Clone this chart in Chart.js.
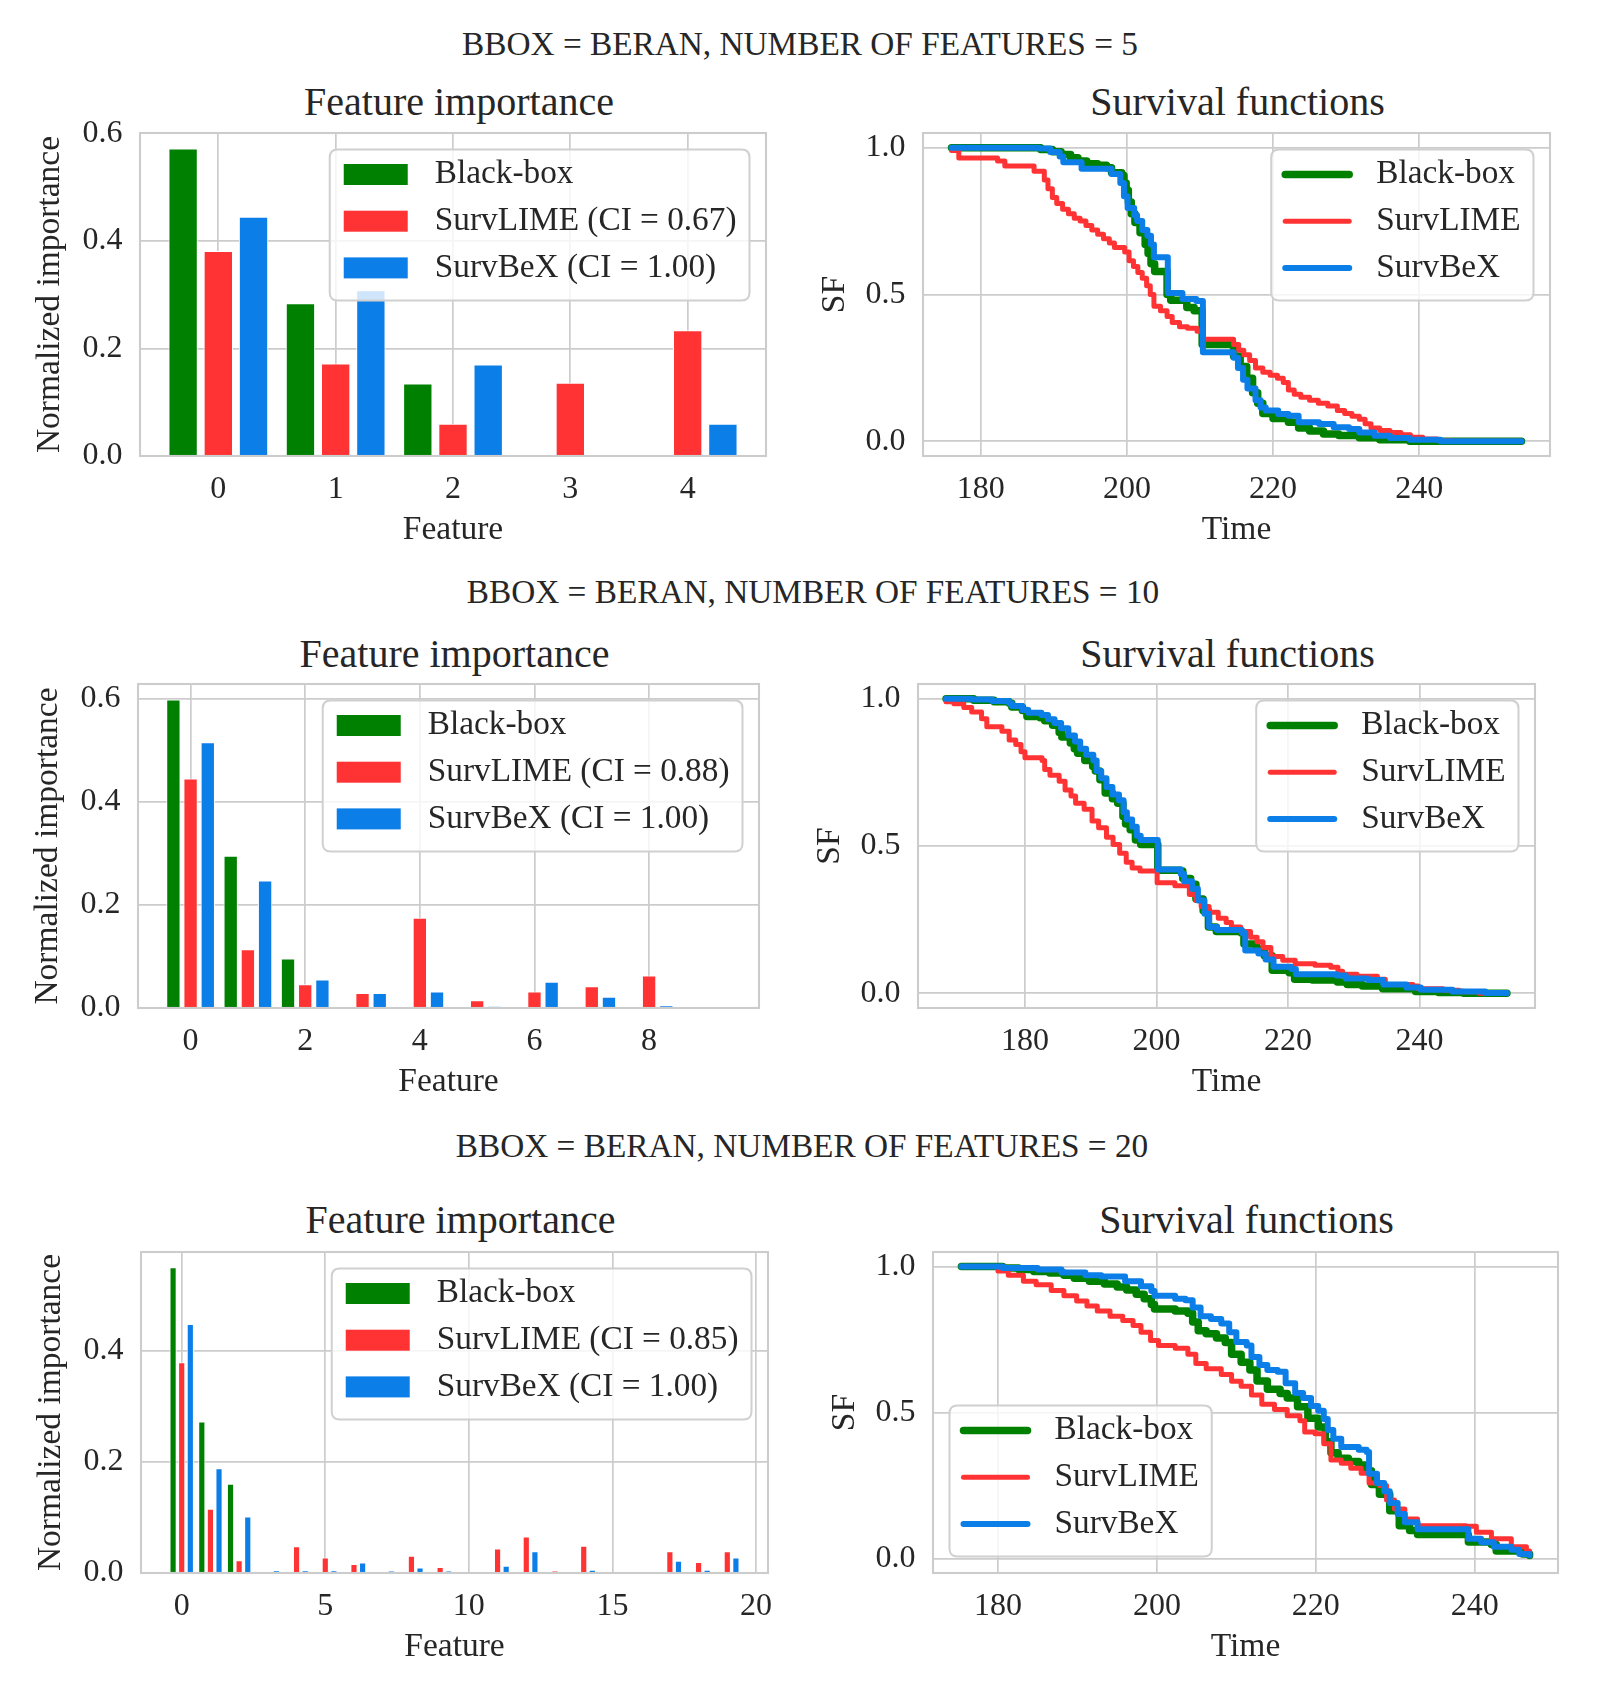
<!DOCTYPE html>
<html>
<head>
<meta charset="utf-8">
<script src="https://cdn.jsdelivr.net/npm/chart.js@4.4.1/dist/chart.umd.min.js"></script>
<style>
html,body{margin:0;padding:0;background:#fff;}
#page{position:relative;width:1600px;height:1696px;overflow:hidden;background:#fff;
  font-family:'Liberation Serif','Times New Roman',serif;color:#262626;}
.txt{position:absolute;white-space:nowrap;transform:translateX(-50%);}
.sup{font-size:33.3px;line-height:33px;}
.ttl{font-size:40px;line-height:40px;}
canvas{position:absolute;}
</style>
</head>
<body>
<div id="page"></div>
<script>
// ---------------- DATA ----------------
const suptitles = [
  'BBOX = BERAN, NUMBER OF FEATURES = 5',
  'BBOX = BERAN, NUMBER OF FEATURES = 10',
  'BBOX = BERAN, NUMBER OF FEATURES = 20'
];
const seriesNames = ['Black-box', 'SurvLIME', 'SurvBeX'];
const ciSurvLIME = ['0.67', '0.88', '0.85'];
const ciSurvBeX = ['1.00', '1.00', '1.00'];

// feature importance (index = feature number)
const fi5_blackbox = [0.572, 0.284, 0.135, 0, 0];
const fi5_survlime = [0.381, 0.172, 0.060, 0.136, 0.234];
const fi5_survbex  = [0.445, 0.308, 0.170, 0, 0.060];

const fi10_blackbox = [0.598, 0.295, 0.096, 0, 0, 0, 0, 0, 0, 0];
const fi10_survlime = [0.445, 0.114, 0.046, 0.029, 0.175, 0.015, 0.032, 0.042, 0.063, 0];
const fi10_survbex  = [0.515, 0.247, 0.055, 0.029, 0.032, 0.003, 0.051, 0.022, 0.005, 0];

const fi20_blackbox = [0.551, 0.273, 0.161, 0, 0, 0, 0, 0, 0, 0, 0, 0, 0, 0, 0, 0, 0, 0, 0, 0];
const fi20_survlime = [0.380, 0.116, 0.023, 0, 0.048, 0.028, 0.016, 0.001, 0.031, 0.011, 0, 0.044, 0.066, 0.004, 0.049, 0, 0, 0.039, 0.020, 0.039];
const fi20_survbex  = [0.449, 0.189, 0.102, 0.005, 0.005, 0.005, 0.019, 0.004, 0.010, 0.004, 0, 0.013, 0.039, 0.001, 0.006, 0.001, 0.001, 0.022, 0.006, 0.028];

// survival functions: [time, SF] step points (value holds until next time)
const sf5_blackbox = [[176,1.0],[188.2,0.994],[189.8,0.986],[191,0.977],[192.3,0.966],[193.3,0.955],[194.5,0.945],[196,0.94],[197.2,0.932],[197.9,0.915],[199.3,0.905],[199.6,0.88],[199.9,0.855],[200.2,0.815],[200.6,0.775],[201.1,0.745],[201.8,0.71],[202.5,0.67],[202.9,0.64],[203.3,0.605],[203.8,0.578],[205.5,0.5],[206,0.48],[208.2,0.456],[209.2,0.445],[210.3,0.33],[214.6,0.29],[215.5,0.255],[216.4,0.215],[217.2,0.165],[217.9,0.13],[218.6,0.095],[220,0.078],[222.1,0.065],[223.5,0.045],[225,0.035],[226.9,0.025],[229,0.02],[231.8,0.012],[234.6,0.005],[238.7,0],[254,0]];
const sf5_survlime = [[176,0.99],[177,0.965],[182.3,0.955],[183.3,0.938],[187.3,0.92],[188.7,0.89],[189.2,0.86],[189.8,0.83],[190.4,0.81],[191.2,0.79],[192,0.775],[192.8,0.76],[193.6,0.75],[194.4,0.735],[195.2,0.72],[196,0.705],[196.8,0.69],[197.6,0.675],[198.3,0.66],[199.7,0.645],[200.3,0.615],[200.9,0.595],[201.5,0.575],[202.1,0.555],[202.7,0.53],[203.2,0.5],[203.7,0.46],[204.6,0.445],[205.5,0.425],[206.2,0.405],[207.2,0.39],[208.3,0.385],[209.6,0.375],[210.4,0.348],[214.6,0.33],[215.3,0.31],[216,0.295],[216.8,0.275],[217.6,0.25],[218.6,0.235],[219.6,0.225],[220.6,0.215],[221.4,0.2],[222.1,0.175],[222.9,0.16],[223.8,0.15],[225,0.14],[226.2,0.13],[227.5,0.12],[228.8,0.105],[229.8,0.095],[230.8,0.085],[231.8,0.075],[232.6,0.06],[233.4,0.045],[234.6,0.037],[236,0.03],[237.5,0.022],[238.8,0.014],[240.5,0.008],[242.5,0.003],[244.5,0],[254,0]];
const sf5_survbex = [[176,1.0],[188,0.997],[189.5,0.985],[190.8,0.97],[191.3,0.95],[193.8,0.928],[197.9,0.91],[199.1,0.88],[199.6,0.835],[200.1,0.795],[201,0.77],[201.4,0.75],[202.1,0.72],[202.8,0.70],[203.3,0.67],[203.7,0.627],[205.6,0.505],[207.6,0.485],[209.5,0.478],[210.4,0.303],[214.6,0.285],[215.2,0.25],[215.9,0.21],[216.5,0.18],[217.6,0.14],[218.3,0.115],[219,0.105],[220.7,0.093],[222.1,0.087],[223.5,0.065],[226.3,0.059],[228.3,0.048],[230.4,0.042],[231.8,0.03],[233.9,0.019],[236,0.011],[238.7,0.005],[242.9,0],[254,0]];

const sf10_blackbox = [[168,1.0],[172.2,0.995],[175.3,0.99],[177.6,0.985],[178,0.972],[179.6,0.96],[180.3,0.94],[182.3,0.935],[183,0.925],[184.2,0.91],[185.2,0.885],[185.6,0.87],[186.9,0.85],[187.5,0.83],[188,0.815],[189.1,0.79],[190.3,0.77],[190.7,0.755],[191.4,0.725],[192.2,0.68],[193.3,0.66],[194.1,0.645],[194.9,0.6],[195.3,0.575],[196,0.555],[196.8,0.52],[197.6,0.505],[200.2,0.418],[203.7,0.415],[204,0.39],[205.2,0.37],[206,0.32],[207.1,0.28],[207.9,0.225],[209.1,0.21],[212.9,0.205],[213.3,0.167],[215.2,0.15],[216.4,0.127],[217.6,0.078],[220.2,0.07],[221,0.048],[223.7,0.045],[227.5,0.038],[229,0.03],[231.3,0.025],[234.4,0.015],[239.4,0.006],[242.9,0.003],[246.7,0],[253.3,0]];
const sf10_survlime = [[168,0.99],[169.2,0.983],[170.7,0.97],[171.9,0.955],[173.4,0.932],[174.2,0.905],[176.5,0.89],[177.6,0.86],[178.6,0.845],[179.4,0.82],[180,0.8],[182.6,0.79],[183,0.76],[183.8,0.74],[185.2,0.72],[186.1,0.69],[187,0.67],[187.7,0.645],[189,0.625],[190.2,0.585],[191.2,0.562],[192.4,0.53],[193.4,0.505],[194.4,0.475],[195.4,0.445],[196.3,0.425],[197.5,0.415],[200.1,0.375],[202.8,0.365],[205,0.335],[206,0.315],[206.8,0.295],[208,0.275],[209.4,0.255],[210.6,0.24],[211.4,0.225],[212.8,0.21],[214.3,0.19],[215.3,0.175],[216.2,0.155],[217.4,0.125],[219.2,0.112],[221.1,0.1],[224.1,0.095],[226.5,0.088],[227.6,0.075],[228.3,0.065],[230.5,0.058],[233.6,0.048],[234.8,0.03],[239,0.025],[239.8,0.015],[243.6,0.01],[246,0.005],[249,0],[253.3,0]];
const sf10_survbex = [[168,1.0],[172,0.997],[175,0.992],[177.6,0.985],[178,0.975],[179.6,0.962],[180.5,0.952],[182.5,0.945],[183.5,0.93],[184.5,0.918],[185.5,0.9],[186.6,0.875],[187.6,0.855],[188.4,0.83],[189.3,0.81],[190.4,0.79],[190.9,0.755],[191.6,0.73],[192.4,0.7],[193.3,0.675],[194.3,0.655],[195,0.615],[195.5,0.59],[196.3,0.565],[197,0.535],[197.6,0.52],[200.2,0.42],[203.7,0.405],[204.2,0.38],[205.4,0.355],[206.3,0.315],[207.3,0.27],[208,0.225],[209.2,0.215],[213,0.205],[213.5,0.145],[215.5,0.135],[216.6,0.115],[217.8,0.09],[220.5,0.082],[221.2,0.065],[227.4,0.06],[228.8,0.05],[232.2,0.045],[234.5,0.03],[238,0.02],[240.2,0.012],[245,0.006],[250,0.001],[253.3,0]];

const sf20_blackbox = [[175.4,1.0],[180.6,0.995],[182.6,0.99],[184.5,0.983],[186.5,0.978],[188.3,0.97],[189.6,0.96],[191.5,0.95],[193.4,0.94],[195,0.93],[196.2,0.92],[197.4,0.905],[198.4,0.89],[199.3,0.87],[199.7,0.855],[202.3,0.848],[203.9,0.84],[204.5,0.81],[205.2,0.78],[206.2,0.77],[207.5,0.755],[208.6,0.74],[209.4,0.7],[210.6,0.672],[211.7,0.646],[212.6,0.608],[213.9,0.58],[215.5,0.565],[216.4,0.55],[217.7,0.52],[219,0.48],[220.3,0.45],[221.2,0.4],[221.9,0.362],[222.8,0.343],[224.1,0.332],[225.4,0.32],[226.4,0.3],[227,0.253],[228,0.22],[229.3,0.163],[230.5,0.112],[231.8,0.096],[232.8,0.082],[238.9,0.08],[239.2,0.056],[242.1,0.048],[242.7,0.025],[246,0.015],[246.9,0.01]];
const sf20_survlime = [[175.4,1.0],[180,0.985],[181.3,0.97],[183.2,0.95],[184.8,0.938],[186.7,0.918],[188.3,0.9],[189.9,0.882],[191.2,0.865],[192.5,0.848],[194.1,0.83],[195.7,0.815],[197,0.798],[198,0.775],[199.2,0.747],[200.2,0.73],[202.3,0.72],[203.9,0.7],[204.9,0.668],[206.2,0.65],[208.1,0.63],[209.4,0.607],[210.6,0.59],[211.9,0.56],[213.2,0.528],[214.8,0.51],[216.4,0.489],[218,0.472],[218.6,0.433],[219.9,0.427],[221,0.393],[221.9,0.337],[223.2,0.326],[224.4,0.309],[225.7,0.292],[226.7,0.258],[228,0.25],[228.9,0.2],[229.9,0.169],[231.2,0.135],[232.8,0.112],[238.9,0.11],[240.2,0.09],[242.1,0.067],[244.6,0.04],[246.5,0.025],[246.9,0.015]];
const sf20_survbex = [[175.4,1.0],[180.6,0.995],[185,0.99],[188,0.98],[191,0.97],[193,0.966],[196,0.95],[198,0.933],[199.3,0.916],[199.7,0.9],[202.3,0.89],[203.6,0.885],[204.5,0.86],[205.5,0.83],[206.8,0.82],[208.1,0.805],[209.1,0.775],[210,0.742],[211.3,0.73],[211.9,0.69],[212.9,0.663],[213.9,0.646],[215.2,0.64],[216.2,0.6],[217.4,0.567],[218.4,0.55],[219.4,0.522],[220.3,0.506],[221,0.478],[221.5,0.44],[222.2,0.41],[223.2,0.382],[225.4,0.372],[226.4,0.365],[226.7,0.29],[227.7,0.258],[228.6,0.23],[229.3,0.19],[230.3,0.152],[231.2,0.124],[232.8,0.1],[238.9,0.1],[239.2,0.067],[240.8,0.055],[242.4,0.04],[244.6,0.03],[245.6,0.015],[246.9,0.01]];

// tick values
const featureTicks5 = [0, 1, 2, 3, 4];
const featureTicks10 = [0, 2, 4, 6, 8];
const featureTicks20 = [0, 5, 10, 15, 20];
const importanceTicks = [0, 0.2, 0.4, 0.6];
const timeTicks = [180, 200, 220, 240];
const sfTicks = [0, 0.5, 1.0];

// ---------------- STYLE / LAYOUT ----------------
const FONT = "'Liberation Serif', 'Times New Roman', serif";
const TEXT = '#262626';
const GRID = '#cccccc';
const SERIES_COLORS = ['#008000', '#ff3333', '#0b7ee8'];
const LINE_WIDTHS = [7.5, 5, 6];

const PLOTS = [
  {L:140, T:133, R:766, B:456},
  {L:923, T:133, R:1550, B:456},
  {L:138, T:684, R:759, B:1008},
  {L:918, T:684, R:1535, B:1008},
  {L:141, T:1252, R:768, B:1573},
  {L:933, T:1252, R:1558, B:1573}
];
const SUP_POS = [{cx:800, top:27.4}, {cx:813, top:575.4}, {cx:802, top:1129.4}];
const TITLE_TOP = [81.5, 633.5, 1199.5];
const TITLE_SHIFT = [6, 1];

const page = document.getElementById('page');

function addText(cls, text, cx, top) {
  const d = document.createElement('div');
  d.className = 'txt ' + cls;
  d.textContent = text;
  d.style.left = cx + 'px';
  d.style.top = top + 'px';
  page.appendChild(d);
}

const framePlugin = {
  id: 'frame',
  afterDatasetsDraw(chart) {
    const {ctx, chartArea: a} = chart;
    ctx.save();
    ctx.strokeStyle = GRID;
    ctx.lineWidth = 2.1;
    ctx.strokeRect(a.left, a.top, a.right - a.left, a.bottom - a.top);
    ctx.restore();
  }
};

const legendPlugin = {
  id: 'boxLegend',
  afterDraw(chart, args, opts) {
    const ctx = chart.ctx, a = chart.chartArea;
    const fs = 33.3;
    ctx.save();
    ctx.font = fs + 'px ' + FONT;
    const ds = chart.data.datasets;
    const textW = Math.max(...ds.map(d => ctx.measureText(d.label).width));
    const pad = 13, hl = 66, gap = 26, inset = 16.5, h = 151, pitch = 46.7;
    const w = pad + hl + gap + textW + pad;
    let x, y;
    if (opts.corner === 'sw') { x = a.left + inset; y = a.bottom - inset - h; }
    else { x = a.right - inset - w; y = a.top + inset; }
    const r = 8;
    ctx.beginPath();
    ctx.moveTo(x + r, y);
    ctx.lineTo(x + w - r, y); ctx.quadraticCurveTo(x + w, y, x + w, y + r);
    ctx.lineTo(x + w, y + h - r); ctx.quadraticCurveTo(x + w, y + h, x + w - r, y + h);
    ctx.lineTo(x + r, y + h); ctx.quadraticCurveTo(x, y + h, x, y + h - r);
    ctx.lineTo(x, y + r); ctx.quadraticCurveTo(x, y, x + r, y);
    ctx.closePath();
    ctx.fillStyle = 'rgba(255,255,255,0.8)';
    ctx.fill();
    ctx.strokeStyle = '#d0d0d0';
    ctx.lineWidth = 2;
    ctx.stroke();
    ds.forEach((d, i) => {
      const cy = y + 25 + i * pitch;
      if (opts.kind === 'bar') {
        ctx.fillStyle = d.backgroundColor;
        ctx.fillRect(x + pad + 1, cy - 10.5, hl - 2, 21);
      } else {
        ctx.strokeStyle = d.borderColor;
        ctx.lineWidth = d.borderWidth;
        ctx.lineCap = 'round';
        ctx.beginPath();
        ctx.moveTo(x + pad + 1, cy);
        ctx.lineTo(x + pad + hl - 1, cy);
        ctx.stroke();
      }
      ctx.fillStyle = TEXT;
      ctx.textBaseline = 'middle';
      ctx.textAlign = 'left';
      ctx.fillText(d.label, x + pad + hl + gap, cy);
    });
    ctx.restore();
  }
};

function makeChart(idx, type, datasets, o) {
  const P = PLOTS[idx];
  const x0 = (idx % 2) * 800;
  const y0 = P.T - 40;
  const w = 800;
  const h = Math.round(P.B + 110 - y0);
  const cv = document.createElement('canvas');
  cv.width = w; cv.height = h;
  cv.style.left = x0 + 'px'; cv.style.top = y0 + 'px';
  cv.style.width = w + 'px'; cv.style.height = h + 'px';
  page.appendChild(cv);
  const tickFont = {family: FONT, size: 32, lineHeight: 1.2};
  const titleFont = {family: FONT, size: 33.5, lineHeight: 1.2};
  const keep = (arr, mn, mx) => arr.filter(v => v >= mn - 1e-9 && v <= mx + 1e-9).map(v => ({value: v}));
  new Chart(cv, {
    type: type,
    data: {datasets: datasets},
    options: {
      responsive: false,
      animation: false,
      events: [],
      layout: {padding: {left: 0, top: 40, right: x0 + w - P.R, bottom: 0}},
      plugins: {
        legend: {display: false},
        tooltip: {enabled: false},
        title: {display: false},
        boxLegend: {corner: o.corner, kind: o.kind}
      },
      scales: {
        x: {
          type: 'linear', position: 'bottom', min: o.xmin, max: o.xmax, offset: false,
          grid: {color: GRID, lineWidth: 1.7, drawTicks: false, offset: false},
          border: {display: false},
          ticks: {font: tickFont, color: TEXT, padding: 14, autoSkip: false, maxRotation: 0, minRotation: 0,
                  callback: v => o.xFmt(v)},
          title: {display: true, text: o.xTitle, font: titleFont, color: TEXT, padding: {top: 0, bottom: 15.5}},
          afterBuildTicks: s => { s.ticks = keep(o.xTicks, o.xmin, o.xmax); },
          afterFit: s => { s.height = 110; }
        },
        y: {
          type: 'linear', position: 'left', min: o.ymin, max: o.ymax,
          grid: {color: GRID, lineWidth: 1.7, drawTicks: false},
          border: {display: false},
          ticks: {font: tickFont, color: TEXT, padding: 17.5, callback: v => o.yFmt(v)},
          title: {display: true, text: o.yTitle, font: titleFont, color: TEXT,
                  padding: {top: P.L - o.yTitleOff - x0 - 20.1, bottom: 0}},
          afterBuildTicks: s => { s.ticks = keep(o.yTicks, o.ymin, o.ymax); },
          afterFit: s => { s.width = P.L - x0; }
        }
      }
    },
    plugins: [framePlugin, legendPlugin]
  });
}

function buildBar(idx, sets, xTicks, ciL, ciB) {
  const n = sets[0].length;
  const lo = -0.425, hi = n - 1 + 0.425, mg = 0.05 * (hi - lo);
  const ymax = Math.max(...sets.flat()) * 1.05;
  const labels = [seriesNames[0], seriesNames[1] + ' (CI = ' + ciL + ')', seriesNames[2] + ' (CI = ' + ciB + ')'];
  const datasets = sets.map((vals, k) => ({
    label: labels[k],
    data: vals.map((v, i) => ({x: i, y: v})),
    backgroundColor: SERIES_COLORS[k],
    borderColor: '#ffffff',
    borderWidth: 1,
    categoryPercentage: 0.9,
    barPercentage: 0.8333
  }));
  makeChart(idx, 'bar', datasets, {
    xmin: lo - mg, xmax: hi + mg, ymin: 0, ymax: ymax,
    xTicks: xTicks, yTicks: importanceTicks,
    xTitle: 'Feature', yTitle: 'Normalized importance', yTitleOff: 90,
    corner: 'ne', kind: 'bar',
    xFmt: v => String(v), yFmt: v => v.toFixed(1)
  });
}

function buildLine(idx, series, corner) {
  const times = series.flat().map(p => p[0]);
  const tmin = Math.min(...times), tmax = Math.max(...times), mg = 0.05 * (tmax - tmin);
  const datasets = series.map((pts, k) => ({
    label: seriesNames[k],
    data: pts.map(p => ({x: p[0], y: p[1]})),
    borderColor: SERIES_COLORS[k],
    backgroundColor: SERIES_COLORS[k],
    borderWidth: LINE_WIDTHS[k],
    stepped: 'before',
    pointRadius: 0,
    fill: false,
    order: 3 - k,
    borderJoinStyle: 'round',
    borderCapStyle: 'round'
  }));
  makeChart(idx, 'line', datasets, {
    xmin: tmin - mg, xmax: tmax + mg, ymin: -0.05, ymax: 1.05,
    xTicks: timeTicks, yTicks: sfTicks,
    xTitle: 'Time', yTitle: 'SF', yTitleOff: 88,
    corner: corner, kind: 'line',
    xFmt: v => String(v), yFmt: v => v.toFixed(1)
  });
}

function build() {
  suptitles.forEach((t, i) => addText('sup', t, SUP_POS[i].cx, SUP_POS[i].top));
  PLOTS.forEach((P, i) => {
    const row = Math.floor(i / 2);
    addText('ttl', i % 2 === 0 ? 'Feature importance' : 'Survival functions',
            (P.L + P.R) / 2 + TITLE_SHIFT[i % 2], TITLE_TOP[row]);
  });
  buildBar(0, [fi5_blackbox, fi5_survlime, fi5_survbex], featureTicks5, ciSurvLIME[0], ciSurvBeX[0]);
  buildLine(1, [sf5_blackbox, sf5_survlime, sf5_survbex], 'ne');
  buildBar(2, [fi10_blackbox, fi10_survlime, fi10_survbex], featureTicks10, ciSurvLIME[1], ciSurvBeX[1]);
  buildLine(3, [sf10_blackbox, sf10_survlime, sf10_survbex], 'ne');
  buildBar(4, [fi20_blackbox, fi20_survlime, fi20_survbex], featureTicks20, ciSurvLIME[2], ciSurvBeX[2]);
  buildLine(5, [sf20_blackbox, sf20_survlime, sf20_survbex], 'sw');
}

if (document.fonts && document.fonts.load) {
  document.fonts.load("33px 'Liberation Serif'").then(build, build);
} else {
  build();
}
</script>
</body>
</html>
